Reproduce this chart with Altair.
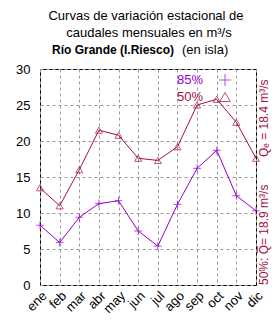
import altair as alt
import pandas as pd

months = ["ene", "feb", "mar", "abr", "may", "jun", "jul", "ago", "sep", "oct", "nov", "dic"]
q85 = [8.3, 5.9, 9.4, 11.3, 11.7, 7.5, 5.4, 11.2, 16.2, 18.7, 12.4, 10.3]
q50 = [13.5, 11.0, 16.0, 21.5, 20.8, 17.6, 17.3, 19.2, 25.0, 25.8, 22.6, 17.6]
series_names = ["85%", "50%"]
col85 = "#9400d3"
col50 = "#a5103e"
FONT = "Liberation Sans"
PLUS = "M-1,0L1,0M0,-1L0,1"

df = pd.DataFrame({
    "mes": months * 2,
    "q": q85 + q50,
    "serie": ["85%"] * 12 + ["50%"] * 12,
})

W, H = 216, 216
xenc = alt.X("mes:N", sort=months, scale=alt.Scale(type="point", padding=0),
             axis=alt.Axis(title=None, labelAngle=-45, labelAlign="right", labelBaseline="top",
                           labelFontSize=13, labelFont=FONT, labelColor="#000", labelPadding=4,
                           grid=True, gridDash=[3, 3], gridColor="#999", ticks=False,
                           domain=False, labelOverlap=False))
yenc = alt.Y("q:Q", scale=alt.Scale(domain=[0, 30], nice=False),
             axis=alt.Axis(title=None, values=[0, 5, 10, 15, 20, 25, 30], labelFontSize=13,
                           labelFont=FONT, labelColor="#000", labelPadding=10,
                           grid=True, gridDash=[3, 3], gridColor="#999", ticks=False, domain=False))
color = alt.Color("serie:N", scale=alt.Scale(domain=series_names, range=[col85, col50]), legend=None)

base = alt.Chart(df)
lines = base.mark_line(strokeWidth=1).encode(x=xenc, y=yenc, color=color)
pts85 = base.transform_filter(alt.datum.serie == "85%").mark_point(
    shape=PLUS, size=60, strokeWidth=1, color=col85, filled=False).encode(x=xenc, y=yenc)
pts50 = base.transform_filter(alt.datum.serie == "50%").mark_point(
    shape="triangle-up", size=50, strokeWidth=1, color=col50, filled=False).encode(x=xenc, y=yenc)


def txt(s, x, y, size=13, col="#000", align="center", weight="normal", angle=0):
    kw = dict(fontSize=size, font=FONT, color=col, align=align, baseline="middle", fontWeight=weight)
    if angle:
        kw["angle"] = angle
    return alt.Chart(pd.DataFrame({"t": [s]})).mark_text(**kw).encode(
        x=alt.value(x), y=alt.value(y), text="t:N")


# legend
leg85 = txt(series_names[0], 163, 11, col=col85, align="right")
leg50 = txt(series_names[1], 163, 28, col=col50, align="right")
leg_plus = alt.Chart(pd.DataFrame({"a": [0]})).mark_point(
    shape=PLUS, size=140, strokeWidth=1, color=col85, filled=False).encode(x=alt.value(185), y=alt.value(11))
leg_tri = alt.Chart(pd.DataFrame({"a": [0]})).mark_point(
    shape="triangle-up", size=110, strokeWidth=1, color=col50).encode(x=alt.value(185), y=alt.value(28))

# right-hand annotation
ann1 = txt("50%:  Q\u0305= 18.9 m\u00b3/s", 224, 216, size=12, col=col50, align="left", angle=270)
ann2 = txt("Q\u2091 = 18.4 m\u00b3/s", 224, 88, size=12, col=col50, align="left", angle=270)

# title lines
t1 = txt("Curvas de variación estacional de", 106, -53)
t2 = txt("caudales mensuales en m\u00b3/s", 109, -36)
t3a = txt("Río Grande (I.Riesco)", 12, -19, size=12, align="left", weight="bold")
t3b = txt("(en isla)", 142, -19, align="left")

chart = alt.layer(lines, pts85, pts50, leg85, leg50, leg_plus, leg_tri, ann1, ann2, t1, t2, t3a, t3b).properties(
    width=W, height=H, autosize=alt.AutoSizeParams(type="none"),
    padding={"left": 40, "top": 69, "right": 24, "bottom": 35},
    background="white",
).configure_view(stroke="#000", strokeWidth=1)

chart.save("out.html", embed_options={"renderer": "svg", "actions": False})
